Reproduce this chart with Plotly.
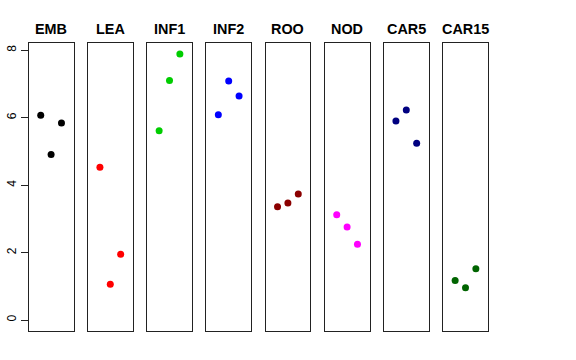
import plotly.graph_objects as go

panels = ["EMB", "LEA", "INF1", "INF2", "ROO", "NOD", "CAR5", "CAR15"]
colors = ["#000000", "#FF0000", "#00CD00", "#0000FF", "#8B0000", "#FF00FF", "#000080", "#006400"]
xpos = [1, 2, 3]
values = {
    "EMB": [6.07, 4.91, 5.84],
    "LEA": [4.53, 1.06, 1.95],
    "INF1": [5.61, 7.10, 7.89],
    "INF2": [6.09, 7.09, 6.64],
    "ROO": [3.36, 3.47, 3.74],
    "NOD": [3.12, 2.76, 2.25],
    "CAR5": [5.90, 6.23, 5.24],
    "CAR15": [1.17, 0.96, 1.52],
}
ytick_vals = [0, 2, 4, 6, 8]

W, H = 576, 360
left0, pw, step = 28.7, 44.8, 59.2
top_px, bot_px = 43.3, 330.7
title_px = 29
ymax = max(max(v) for v in values.values())
ext = 0.04 * ymax
yrange = [-ext, ymax + ext]

fig = go.Figure()
layout = dict(
    width=W, height=H, margin=dict(l=0, r=0, t=0, b=0, autoexpand=False),
    plot_bgcolor="white", paper_bgcolor="white", showlegend=False,
    font=dict(family="Liberation Sans, Arial, sans-serif", color="black"),
)
annotations = []
for i, name in enumerate(panels):
    k = "" if i == 0 else str(i + 1)
    x0 = left0 + i * step
    x1 = x0 + pw
    fig.add_trace(go.Scatter(
        x=xpos, y=values[name], mode="markers",
        marker=dict(color=colors[i], size=7, line=dict(width=0)),
        xaxis="x" + k, yaxis="y" + k, hoverinfo="skip",
    ))
    layout["xaxis" + k] = dict(
        domain=[x0 / W, x1 / W], range=[-0.16, 4.16], anchor="y" + k,
        showgrid=False, zeroline=False, showticklabels=False, ticks="",
        showline=True, mirror=True, linecolor="#222", linewidth=1,
        automargin=False,
    )
    yax = dict(
        domain=[1 - bot_px / H, 1 - top_px / H], range=yrange, anchor="x" + k,
        showgrid=False, zeroline=False, automargin=False,
        showline=True, mirror=True, linecolor="#222", linewidth=1,
    )
    if i == 0:
        yax.update(tickmode="array", tickvals=ytick_vals,
                   ticktext=[str(v) for v in ytick_vals],
                   ticks="outside", ticklen=7, tickcolor="#222", tickwidth=1,
                   tickangle=-90, tickfont=dict(size=12, color="black"))
    else:
        yax.update(showticklabels=False, ticks="")
    layout["yaxis" + k] = yax
    annotations.append(dict(
        text="<b>%s</b>" % name, x=(x0 + x1) / 2 / W, y=1 - title_px / H,
        xref="paper", yref="paper", xanchor="center", yanchor="middle",
        showarrow=False, font=dict(size=14.4, color="black"),
    ))
layout["annotations"] = annotations
fig.update_layout(**layout)
fig.write_html("out.html", config={"displayModeBar": False},
               post_script="document.body.style.margin='0';")
